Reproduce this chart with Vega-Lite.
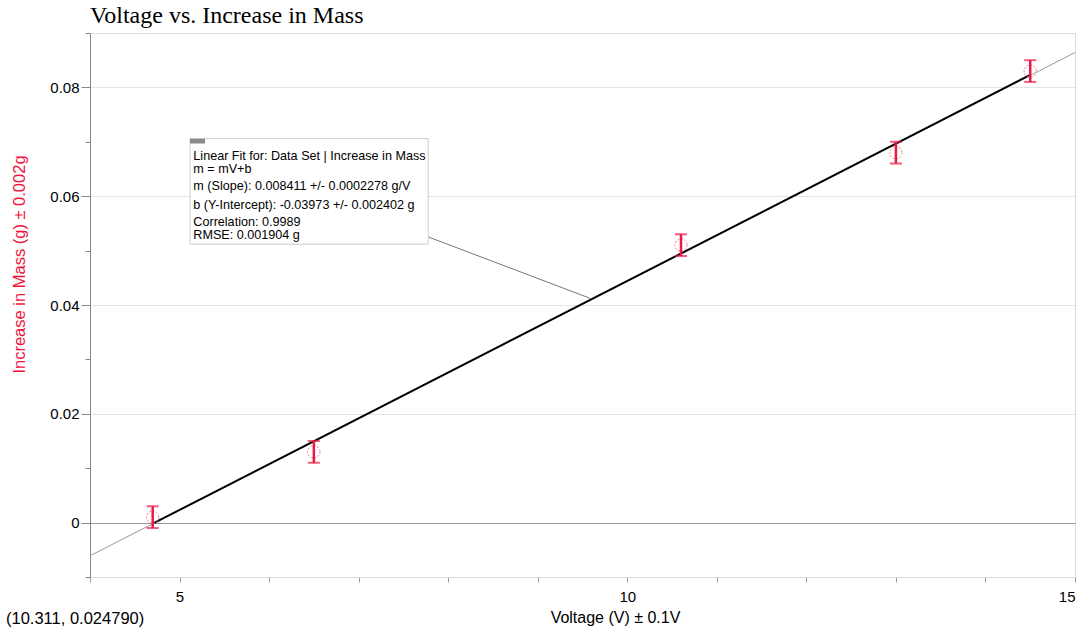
{
  "$schema": "https://vega.github.io/schema/vega-lite/v6.json",
  "width": 985,
  "height": 544,
  "autosize": {"type": "none"},
  "padding": {"left": 90, "top": 33, "right": 14, "bottom": 54},
  "background": "white",
  "title": {
    "text": "Voltage vs. Increase in Mass",
    "anchor": "start",
    "frame": "group",
    "font": "Liberation Serif",
    "fontSize": 24,
    "fontWeight": "normal",
    "color": "#000",
    "offset": 5
  },
  "config": {
    "view": {"stroke": "#dddddd", "strokeWidth": 1}
  },
  "datasets": {
    "points": [
      {"voltage": 4.7, "mass": 0.001, "lo": -0.001, "hi": 0.003},
      {"voltage": 6.5, "mass": 0.013, "lo": 0.011, "hi": 0.015},
      {"voltage": 10.6, "mass": 0.051, "lo": 0.049, "hi": 0.053},
      {"voltage": 13.0, "mass": 0.068, "lo": 0.066, "hi": 0.070},
      {"voltage": 14.5, "mass": 0.083, "lo": 0.081, "hi": 0.085}
    ],
    "fitExt": [{"voltage": 4.0, "mass": -0.0061}, {"voltage": 15.0, "mass": 0.0864}],
    "fit": [{"voltage": 4.7, "mass": -0.0002}, {"voltage": 14.5, "mass": 0.0823}],
    "leader": [{"voltage": 7.78, "mass": 0.0525, "voltage2": 9.59, "mass2": 0.0412}],
    "box": [{"voltage": 5.117, "mass": 0.07058, "voltage2": 7.777, "mass2": 0.05118}],
    "icon": [{"voltage": 5.117, "mass": 0.07058, "voltage2": 5.285, "mass2": 0.0697}],
    "boxText": [
      {"voltage": 5.154, "mass": 0.0674, "label": "Linear Fit for: Data Set | Increase in Mass"},
      {"voltage": 5.154, "mass": 0.06504, "label": "m = mV+b"},
      {"voltage": 5.154, "mass": 0.0619, "label": "m (Slope): 0.008411 +/- 0.0002278 g/V"},
      {"voltage": 5.154, "mass": 0.0584, "label": "b (Y-Intercept): -0.03973 +/- 0.002402 g"},
      {"voltage": 5.154, "mass": 0.0552, "label": "Correlation: 0.9989"},
      {"voltage": 5.154, "mass": 0.0528, "label": "RMSE: 0.001904 g"}
    ],
    "cursor": [{"voltage": 3.062, "mass": -0.0177, "label": "(10.311, 0.024790)"}]
  },
  "encoding": {
    "x": {
      "field": "voltage",
      "type": "quantitative",
      "scale": {"domain": [4, 15], "nice": false, "zero": false},
      "axis": {
        "title": "Voltage (V) ± 0.1V",
        "values": [4, 5, 6, 7, 8, 9, 10, 11, 12, 13, 14, 15],
        "labelExpr": "datum.value % 5 == 0 ? datum.label : ''",
        "grid": false,
        "tickSize": 5,
        "tickColor": "#999999",
        "domainColor": "#dddddd",
        "labelFont": "Liberation Sans",
        "labelFontSize": 15,
        "labelColor": "#000000",
        "labelPadding": 7,
        "titleFont": "Liberation Sans",
        "titleFontSize": 16,
        "titleFontWeight": "normal",
        "titleColor": "#000000",
        "titlePadding": 5,
        "titleX": 525
      }
    },
    "y": {
      "field": "mass",
      "type": "quantitative",
      "scale": {"domain": [-0.01, 0.09], "nice": false, "zero": false},
      "axis": {
        "title": "Increase in Mass (g) ± 0.002g",
        "values": [-0.01, 0, 0.01, 0.02, 0.03, 0.04, 0.05, 0.06, 0.07, 0.08, 0.09],
        "labelExpr": "abs(round(datum.value * 100)) % 2 == 0 ? (datum.value == 0 ? '0' : format(datum.value, '.2f')) : ''",
        "grid": true,
        "gridColor": {"condition": {"test": "abs(datum.value) < 0.0001", "value": "#999999"}, "value": "#e4e4e4"},
        "gridOpacity": {"condition": {"test": "abs(round(datum.value * 100)) % 2 == 0", "value": 1}, "value": 0},
        "tickSize": {"condition": {"test": "abs(round(datum.value * 100)) % 2 == 0", "value": 9}, "value": 5},
        "tickColor": "#888888",
        "domainColor": "#888888",
        "labelFont": "Liberation Sans",
        "labelFontSize": 15,
        "labelColor": "#000000",
        "labelPadding": 2,
        "titleFont": "Liberation Sans",
        "titleFontSize": 16.5,
        "titleFontWeight": "normal",
        "titleColor": "#f0143c",
        "titlePadding": 22,
        "titleY": 231
      }
    }
  },
  "layer": [
    {
      "data": {"name": "fitExt"},
      "mark": {"type": "line", "color": "#9a9a9a", "strokeWidth": 1}
    },
    {
      "data": {"name": "fit"},
      "mark": {"type": "line", "color": "#000000", "strokeWidth": 2}
    },
    {
      "data": {"name": "leader"},
      "mark": {"type": "rule", "color": "#777777", "strokeWidth": 1},
      "encoding": {"x2": {"field": "voltage2"}, "y2": {"field": "mass2"}}
    },
    {
      "data": {"name": "box"},
      "mark": {"type": "rect", "fill": "#ffffff", "stroke": "#cccccc", "strokeWidth": 1},
      "encoding": {"x2": {"field": "voltage2"}, "y2": {"field": "mass2"}}
    },
    {
      "data": {"name": "icon"},
      "mark": {"type": "rect", "fill": "#8a8a8a"},
      "encoding": {"x2": {"field": "voltage2"}, "y2": {"field": "mass2"}}
    },
    {
      "data": {"name": "boxText"},
      "mark": {"type": "text", "align": "left", "baseline": "middle", "font": "Liberation Sans", "fontSize": 12.6, "color": "#000000"},
      "encoding": {"text": {"field": "label"}}
    },
    {
      "data": {"name": "points"},
      "mark": {"type": "point", "shape": "circle", "size": 150, "filled": false, "color": "#f27a95", "opacity": 1, "strokeWidth": 1, "strokeDash": [2, 1.5]}
    },
    {
      "data": {"name": "points"},
      "mark": {"type": "rule", "color": "#ea1a46", "strokeWidth": 2.5},
      "encoding": {"y": {"field": "lo", "type": "quantitative"}, "y2": {"field": "hi"}}
    },
    {
      "data": {"name": "points"},
      "mark": {"type": "tick", "orient": "horizontal", "color": "#ea1a46", "thickness": 2, "size": 12},
      "encoding": {"y": {"field": "lo", "type": "quantitative"}}
    },
    {
      "data": {"name": "points"},
      "mark": {"type": "tick", "orient": "horizontal", "color": "#ea1a46", "thickness": 2, "size": 12},
      "encoding": {"y": {"field": "hi", "type": "quantitative"}}
    },
    {
      "data": {"name": "cursor"},
      "mark": {"type": "text", "align": "left", "baseline": "middle", "font": "Liberation Sans", "fontSize": 16.5, "color": "#000000"},
      "encoding": {"text": {"field": "label"}}
    }
  ]
}
